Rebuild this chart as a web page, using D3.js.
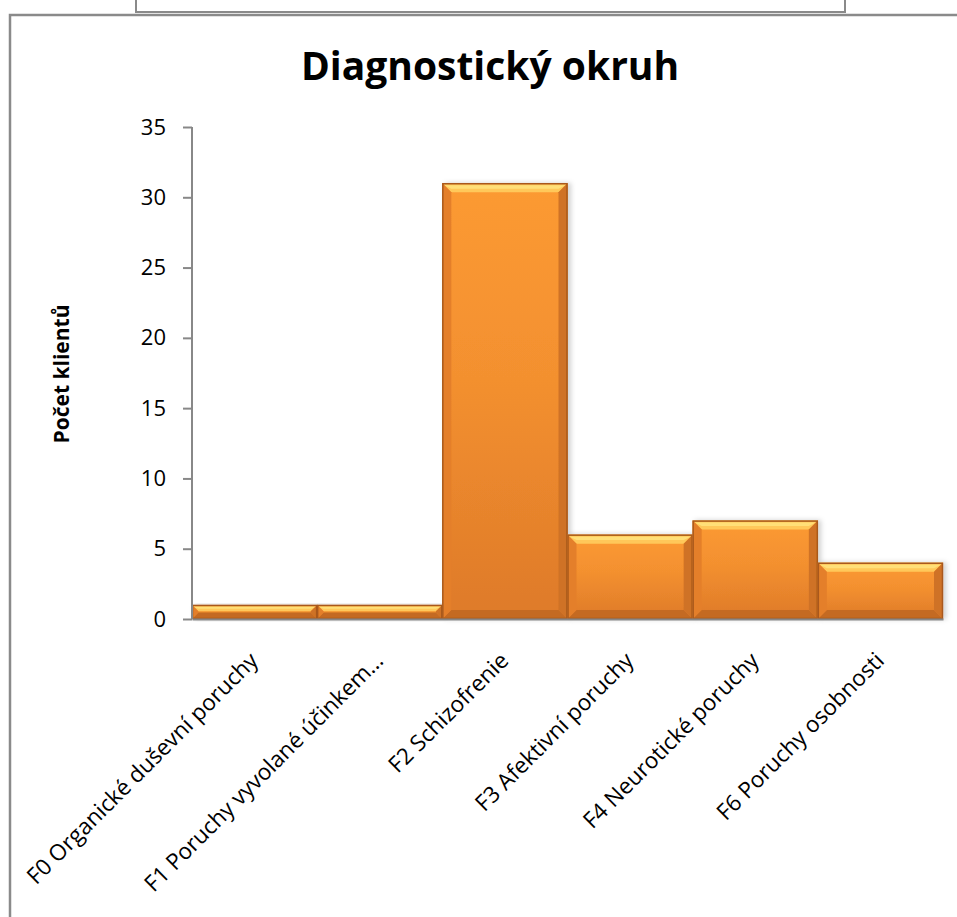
<!DOCTYPE html>
<html>
<head>
<meta charset="utf-8">
<script src="https://cdn.jsdelivr.net/npm/d3@7"></script>
<style>
  body { margin: 0; background: #fff; }
  svg { display: block; font-family: "Open Sans", "Noto Sans", sans-serif; }
</style>
</head>
<body>
<div id="vis"></div>
<script>
const categories = [
  'F0 Organické duševní poruchy',
  'F1 Poruchy vyvolané účinkem…',
  'F2 Schizofrenie',
  'F3 Afektivní poruchy',
  'F4 Neurotické poruchy',
  'F6 Poruchy osobnosti'
];
const values = [1, 1, 31, 6, 7, 4];
const yTicks = [0, 5, 10, 15, 20, 25, 30, 35];

const width = 957;
const height = 917;
const margin = { top: 127, right: 14, bottom: 298, left: 192 };

const svg = d3.select('#vis').append('svg')
  .attr('width', width)
  .attr('height', height);

svg.append('rect').attr('width', width).attr('height', height).attr('fill', '#fff');

// frames
svg.append('rect')
  .attr('x', 136).attr('y', -10).attr('width', 709).attr('height', 22)
  .attr('fill', 'none').attr('stroke', '#8a8a8a').attr('stroke-width', 2);
svg.append('rect')
  .attr('x', 10).attr('y', 15).attr('width', 960).attr('height', 920)
  .attr('fill', 'none').attr('stroke', '#8a8a8a').attr('stroke-width', 2.5);

const defs = svg.append('defs');
const grad = defs.append('linearGradient').attr('id', 'barFill')
  .attr('x1', 0).attr('y1', 0).attr('x2', 0).attr('y2', 1);
grad.append('stop').attr('offset', '0%').attr('stop-color', '#fc9a33');
grad.append('stop').attr('offset', '45%').attr('stop-color', '#f3902f');
grad.append('stop').attr('offset', '100%').attr('stop-color', '#de7a2a');

const shadow = defs.append('filter').attr('id', 'shadow')
  .attr('x', '-10%').attr('y', '-10%').attr('width', '130%').attr('height', '130%');
shadow.append('feDropShadow').attr('dx', 3).attr('dy', 0).attr('stdDeviation', 2.5)
  .attr('flood-color', '#000').attr('flood-opacity', 0.18);

const x = d3.scaleBand()
  .domain(categories)
  .range([margin.left, width - margin.right])
  .padding(0);

const y = d3.scaleLinear()
  .domain([0, 35])
  .range([height - margin.bottom, margin.top]);

// title
svg.append('text')
  .attr('x', 490).attr('y', 80)
  .attr('text-anchor', 'middle')
  .attr('font-size', 39).attr('font-weight', 'bold')
  .attr('fill', '#000')
  .text('Diagnostický okruh');

// y axis title
svg.append('text')
  .attr('transform', 'translate(69,' + 374 + ') rotate(-90)')
  .attr('text-anchor', 'middle')
  .attr('font-size', 21).attr('font-weight', 'bold')
  .text('Počet klientů');

// bars
const bars = svg.append('g').selectAll('g.bar')
  .data(values)
  .join('g')
  .attr('class', 'bar')
  .attr('filter', 'url(#shadow)');

bars.each(function (d, i) {
  const g = d3.select(this);
  const x0 = x(categories[i]);
  const w = x.bandwidth();
  const y0 = y(d);
  const y1 = y(0);
  const h = y1 - y0;
  const b = Math.min(9, h / 2.2);

  g.append('rect')
    .attr('x', x0).attr('y', y0).attr('width', w).attr('height', h)
    .attr('fill', 'url(#barFill)');
  // top bevel
  g.append('polygon')
    .attr('points', [[x0, y0], [x0 + w, y0], [x0 + w - b, y0 + b], [x0 + b, y0 + b]].join(' '))
    .attr('fill', '#ffc85a');
  g.append('polygon')
    .attr('points', [[x0 + 2, y0 + 2], [x0 + w - 2, y0 + 2], [x0 + w - b, y0 + b * 0.6], [x0 + b, y0 + b * 0.6]].join(' '))
    .attr('fill', '#ffdf78');
  // bottom bevel
  g.append('polygon')
    .attr('points', [[x0, y1], [x0 + w, y1], [x0 + w - b, y1 - b], [x0 + b, y1 - b]].join(' '))
    .attr('fill', '#c46a22');
  // left bevel
  g.append('polygon')
    .attr('points', [[x0, y0], [x0 + b, y0 + b], [x0 + b, y1 - b], [x0, y1]].join(' '))
    .attr('fill', '#e47f2a');
  // right bevel
  g.append('polygon')
    .attr('points', [[x0 + w, y0], [x0 + w - b, y0 + b], [x0 + w - b, y1 - b], [x0 + w, y1]].join(' '))
    .attr('fill', '#cf7225');
  g.append('rect')
    .attr('x', x0 + 0.5).attr('y', y0 + 0.5).attr('width', w - 1).attr('height', h - 1)
    .attr('fill', 'none').attr('stroke', '#a9591a').attr('stroke-width', 1.5);
});

// y axis
const yAxis = svg.append('g')
  .attr('transform', 'translate(' + margin.left + ',0)')
  .call(d3.axisLeft(y).tickValues(yTicks).tickSize(9).tickPadding(17));
yAxis.selectAll('path, line').attr('stroke', '#888').attr('stroke-width', 2);
yAxis.select('.domain').attr('d', 'M0,' + y(35) + 'V' + y(0));
yAxis.selectAll('text').attr('font-size', 22).attr('fill', '#000')
  .attr('font-family', '"Open Sans", sans-serif');

// x axis
const xAxis = svg.append('g')
  .attr('transform', 'translate(0,' + y(0) + ')')
  .call(d3.axisBottom(x).tickSize(0).tickFormat(''));
xAxis.select('.domain').attr('stroke', '#888').attr('stroke-width', 2);

svg.append('g').selectAll('text')
  .data(categories)
  .join('text')
  .attr('transform', d => 'translate(' + (x(d) + x.bandwidth() / 2 + 5) + ',' + 662 + ') rotate(-45)')
  .attr('text-anchor', 'end')
  .attr('font-size', 22.5)
  .attr('fill', '#000')
  .text(d => d);
</script>
</body>
</html>
